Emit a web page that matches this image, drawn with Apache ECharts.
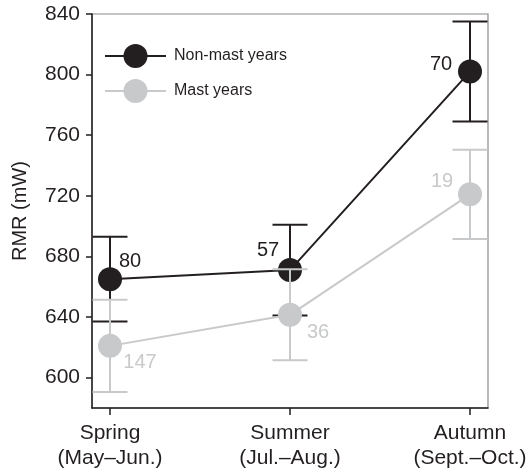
<!DOCTYPE html>
<html>
<head>
<meta charset="utf-8">
<script src="https://cdn.jsdelivr.net/npm/echarts@6/dist/echarts.min.js"></script>
<style>html,body{margin:0;padding:0;background:#fff}#c{width:530px;height:471px}</style>
</head>
<body>
<div id="c"></div>
<script>
const seasons = ['Spring\n(May–Jun.)', 'Summer\n(Jul.–Aug.)', 'Autumn\n(Sept.–Oct.)'];
const yTicks = [600, 640, 680, 720, 760, 800, 840];
const nonMastMean = [665, 671, 802];
const nonMastErr = [28, 30, 33];
const nonMastN = [80, 57, 70];
const mastMean = [621, 641.5, 721];
const mastErr = [30.5, 30, 29.5];
const mastN = [147, 36, 19];

const BLACK = '#231f20';
const GREY = '#c8c9ca';
const FONT = 'Liberation Sans, Arial, sans-serif';

const nonMastOffsets = [[20, -18], [-22, -20], [-29, -7]];
const mastOffsets = [[30, 17], [28, 18], [-28, -13]];

function pointData(means, ns, offsets, color) {
  return means.map((m, i) => ({
    value: [i, m],
    label: {show: true, formatter: String(ns[i]), position: 'inside', offset: offsets[i],
      color: color, fontSize: 20, fontFamily: FONT, align: 'center', verticalAlign: 'middle'}
  }));
}
function errData(means, errs) {
  return means.map((m, i) => [i, m - errs[i], m + errs[i]]);
}
function errSeries(name, means, errs, color) {
  return {
    type: 'custom', name: name + ' err', silent: true, z: 2,
    data: errData(means, errs),
    encode: {x: 0, y: [1, 2]},
    renderItem: function (params, api) {
      const lo = api.coord([api.value(0), api.value(1)]);
      const hi = api.coord([api.value(0), api.value(2)]);
      const hw = 17.5;
      const st = {stroke: color, lineWidth: 2};
      return {type: 'group', children: [
        {type: 'line', shape: {x1: lo[0], y1: lo[1], x2: hi[0], y2: hi[1]}, style: st},
        {type: 'line', shape: {x1: lo[0] - hw, y1: lo[1], x2: lo[0] + hw, y2: lo[1]}, style: st},
        {type: 'line', shape: {x1: hi[0] - hw, y1: hi[1], x2: hi[0] + hw, y2: hi[1]}, style: st}
      ]};
    }
  };
}

const chart = echarts.init(document.getElementById('c'), null, {renderer: 'canvas'});
chart.setOption({
  animation: false,
  backgroundColor: '#fff',
  grid: {left: 92, right: 42, top: 14, bottom: 62, show: true, borderColor: '#8a8a8a', borderWidth: 1.2},
  legend: {
    left: 99, top: 39, orient: 'vertical', itemWidth: 61, itemHeight: 30, itemGap: 11,
    data: ['Non-mast years', 'Mast years'],
    textStyle: {fontSize: 16, fontFamily: FONT, color: BLACK, padding: [0, 0, 0, 3]}
  },
  xAxis: {
    type: 'value', min: -0.1, max: 2.1,
    axisLine: {show: true, onZero: false, lineStyle: {color: BLACK, width: 1.5}},
    axisTick: {show: true, customValues: [0, 1, 2], length: 7, lineStyle: {color: BLACK, width: 1.5}},
    axisLabel: {customValues: [0, 1, 2], formatter: v => seasons[Math.round(v)], margin: 13,
      fontSize: 21, lineHeight: 25, fontFamily: FONT, color: BLACK},
    splitLine: {show: false}
  },
  yAxis: {
    type: 'value', min: 580, max: 840,
    name: 'RMR (mW)', nameLocation: 'middle', nameGap: 62,
    nameTextStyle: {fontSize: 20, fontFamily: FONT, color: BLACK},
    axisLine: {show: true, onZero: false, lineStyle: {color: BLACK, width: 1.5}},
    axisTick: {show: true, customValues: yTicks, length: 6, lineStyle: {color: BLACK, width: 1.5}},
    axisLabel: {customValues: yTicks, margin: 12, fontSize: 21, fontFamily: FONT, color: BLACK},
    splitLine: {show: false}
  },
  series: [
    errSeries('Non-mast years', nonMastMean, nonMastErr, BLACK),
    {
      type: 'line', name: 'Non-mast years', z: 3,
      data: pointData(nonMastMean, nonMastN, nonMastOffsets, BLACK),
      symbol: 'circle', symbolSize: 24,
      lineStyle: {color: BLACK, width: 2}, itemStyle: {color: BLACK}
    },
    Object.assign(errSeries('Mast years', mastMean, mastErr, GREY), {z: 4}),
    {
      type: 'line', name: 'Mast years', z: 5,
      data: pointData(mastMean, mastN, mastOffsets, GREY),
      symbol: 'circle', symbolSize: 24,
      lineStyle: {color: GREY, width: 2}, itemStyle: {color: GREY}
    }
  ]
});
</script>
</body>
</html>
